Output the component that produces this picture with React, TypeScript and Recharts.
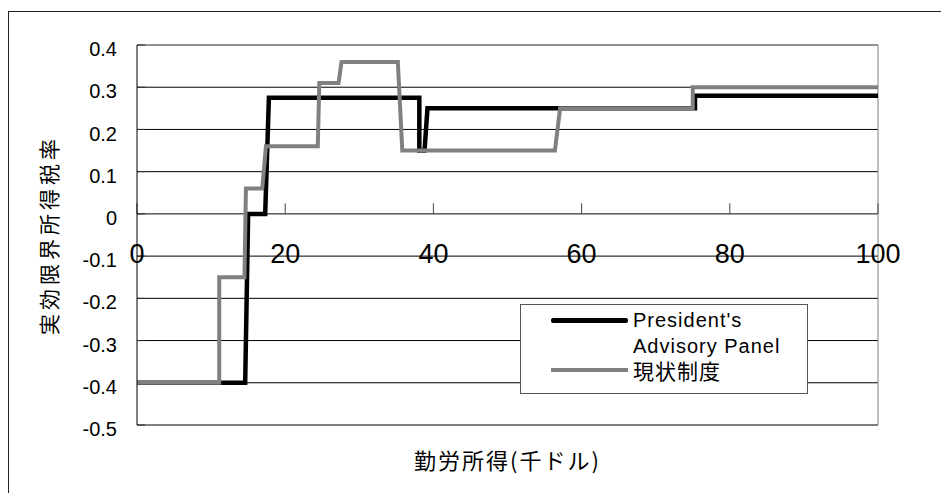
import {
  CartesianGrid,
  Legend,
  Line,
  LineChart,
  ReferenceDot,
  ReferenceLine,
  XAxis,
  YAxis,
} from "recharts";

const FONT = "'Liberation Sans', Arial, 'Noto Sans CJK JP', sans-serif";
const JP_FONT = "'Noto Sans CJK JP', 'Liberation Sans', sans-serif";

// earned income (thousand $) / effective marginal rate
const panelIncome = [0, 14.6, 15.0, 17.3, 17.8, 38.1, 38.1, 38.8, 39.2, 75.3, 75.3, 100];
const panelRate = [-0.4, -0.4, 0, 0, 0.275, 0.275, 0.15, 0.15, 0.25, 0.25, 0.28, 0.28];

const currentIncome = [0, 11.1, 11.1, 14.5, 14.7, 16.9, 17.4, 24.4, 24.6, 27.2, 27.6, 35.2, 35.8, 56.4, 57.1, 75.0, 75.0, 100];
const currentRate = [-0.4, -0.4, -0.15, -0.15, 0.06, 0.06, 0.16, 0.16, 0.31, 0.31, 0.36, 0.36, 0.15, 0.15, 0.25, 0.25, 0.3, 0.3];

const xTicks = [0, 20, 40, 60, 80, 100];
const yTicks = [-0.5, -0.4, -0.3, -0.2, -0.1, 0, 0.1, 0.2, 0.3, 0.4];

const panelName = "President's Advisory Panel";
const currentName = "現状制度";
const xTitle = "勤労所得(千ドル)";
const yTitle = "実効限界所得税率";

const panelData = panelIncome.map((x, i) => ({ x, y: panelRate[i] }));
const currentData = currentIncome.map((x, i) => ({ x, y: currentRate[i] }));

const formatRate = (v: number) => (v === 0 ? "0" : v.toFixed(1));

function LegendBox() {
  return (
    <div
      style={{
        position: "relative",
        width: 286,
        height: 88,
        border: "1px solid #555",
        background: "#fff",
        fontFamily: FONT,
        fontSize: 20,
        letterSpacing: 1,
        color: "#000",
      }}
    >
      <div style={{ position: "absolute", left: 30, top: 13, width: 77, height: 5, background: "#000", borderRadius: 2 }} />
      <div style={{ position: "absolute", left: 112, top: 2, width: 170, lineHeight: "26px" }}>{panelName}</div>
      <div style={{ position: "absolute", left: 30, top: 63, width: 77, height: 4, background: "#808080" }} />
      <div style={{ position: "absolute", left: 112, top: 52, lineHeight: "26px", fontFamily: JP_FONT, fontSize: 21 }}>
        {currentName}
      </div>
    </div>
  );
}

function YTitle(props: any) {
  const vb = props.viewBox;
  const x = vb.x + 40;
  const y = vb.y + vb.height / 2;
  return (
    <text
      x={x}
      y={y}
      transform={`rotate(-90, ${x}, ${y})`}
      textAnchor="middle"
      dominantBaseline="central"
      fontFamily={JP_FONT}
      fontSize={21}
      letterSpacing={4}
      fill="#000"
    >
      {yTitle}
    </text>
  );
}

export default function App() {
  return (
    <div style={{ position: "relative", width: 941, height: 485 }}>
      <div
        style={{
          position: "absolute",
          left: 0,
          top: 3,
          width: 940,
          height: 482,
          borderTop: "1px solid #222",
          borderLeft: "1px solid #222",
          pointerEvents: "none",
        }}
      />
      <LineChart width={941} height={485} margin={{ top: 37, right: 71, bottom: 0, left: 0 }}>
        <CartesianGrid vertical={false} stroke="#000" />
        <XAxis
          dataKey="x"
          type="number"
          domain={[0, 100]}
          ticks={xTicks}
          tick={false}
          tickLine={false}
          axisLine={false}
          height={68}
          label={{
            value: xTitle,
            position: "insideBottom",
            offset: 24,
            fontSize: 22,
            letterSpacing: 2,
            fontFamily: JP_FONT,
            fill: "#000",
          }}
        />
        <YAxis
          type="number"
          domain={[-0.5, 0.4]}
          ticks={yTicks}
          interval={0}
          width={129}
          tickFormatter={formatRate}
          tickLine={false}
          tickSize={0}
          tickMargin={20}
          axisLine={{ stroke: "#000" }}
          tick={{ fill: "#000", fontSize: 20, fontFamily: FONT, dy: 4 }}
          label={{ content: <YTitle /> }}
        />
        <ReferenceLine y={0.4} stroke="#a6a6a6" />
        <ReferenceLine y={-0.5} stroke="#808080" />
        <ReferenceLine x={100} stroke="#808080" />
        {yTicks.map((t) => (
          <ReferenceLine key={`yt${t}`} segment={[{ x: 0, y: t }, { x: 1.1, y: t }]} stroke="#333" />
        ))}
        {xTicks.map((t) => (
          <ReferenceLine key={`xt${t}`} segment={[{ x: t, y: 0 }, { x: t, y: 0.025 }]} stroke="#444" />
        ))}
        <Line
          data={panelData}
          dataKey="y"
          name={panelName}
          stroke="#000"
          strokeWidth={4.5}
          dot={false}
          activeDot={false}
          isAnimationActive={false}
        />
        <Line
          data={currentData}
          dataKey="y"
          name={currentName}
          stroke="#808080"
          strokeWidth={4}
          dot={false}
          activeDot={false}
          isAnimationActive={false}
        />
        {xTicks.map((t) => (
          <ReferenceDot
            key={`xl${t}`}
            x={t}
            y={0}
            r={0}
            fill="none"
            stroke="none"
            label={{ value: String(t), position: "bottom", offset: 30, fontSize: 27, fill: "#000", fontFamily: FONT }}
          />
        ))}
        <Legend
          layout="horizontal"
          verticalAlign="middle"
          align="center"
          content={() => <LegendBox />}
          wrapperStyle={{ left: 512, top: 296, width: 288, height: 90 }}
        />
      </LineChart>
    </div>
  );
}
